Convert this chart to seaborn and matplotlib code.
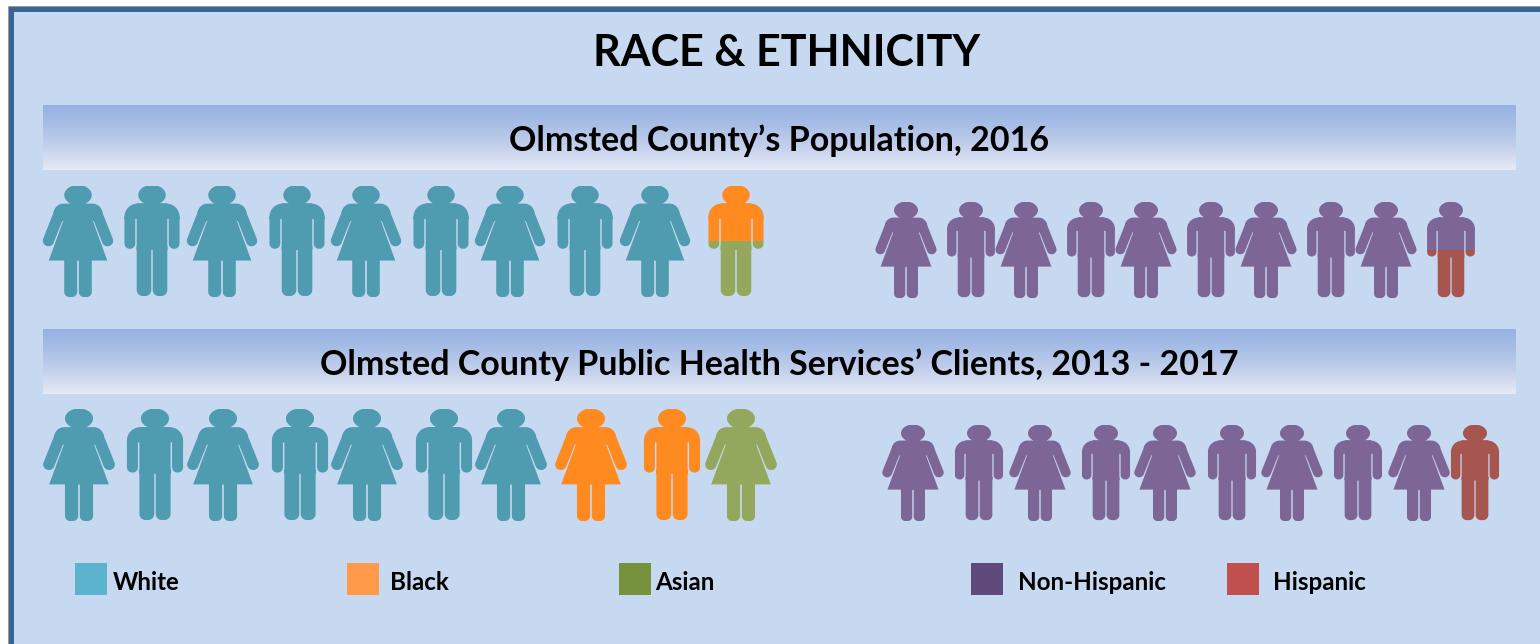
import numpy as np
import pandas as pd
import seaborn as sns
import matplotlib.pyplot as plt
from matplotlib.path import Path
from matplotlib.patches import PathPatch, Rectangle

# values, each group is out of 10 people
race_names = ["White", "Black", "Asian"]
eth_names = ["Non-Hispanic", "Hispanic"]
pop_race = [9, 0.5, 0.5]
pop_eth = [9.5, 0.5]
client_race = [7, 2, 1]
client_eth = [9, 1]
pop_race_icons = list("FMFMFMFMFM")
pop_eth_icons = list("FMFMFMFMFM")
client_race_icons = list("FMFMFMFFMF")
client_eth_icons = list("FMFMFMFMFM")

title = "RACE & ETHNICITY"
band_titles = ["Olmsted County\u2019s Population, 2016",
               "Olmsted County Public Health Services\u2019 Clients, 2013 - 2017"]

# colours
icon_colors = {"White": "#4F9BB0", "Black": "#FF8A20", "Asian": "#93A85C",
               "Non-Hispanic": "#7D6596", "Hispanic": "#A7554F"}
legend_colors = {"White": "#5BB3CE", "Black": "#FF9A4B", "Asian": "#76923C",
                 "Non-Hispanic": "#604A7B", "Hispanic": "#C0504D"}

# layout, pixels
BG = "#C6D9F1"
pop_race_x = [78, 152, 222, 297, 366, 441, 510, 585, 655, 736]
pop_eth_x = [906, 971, 1026, 1091, 1146, 1211, 1266, 1331, 1386, 1451]
client_race_x = [79, 155, 223, 300, 367, 444, 511, 591, 672, 741]
client_eth_x = [913, 979, 1040, 1106, 1165, 1232, 1292, 1358, 1419, 1475]
legend_x = {"White": 91, "Black": 363, "Asian": 635, "Non-Hispanic": 987, "Hispanic": 1243}
legend_text_x = {"White": 113, "Black": 390, "Asian": 655, "Non-Hispanic": 1018, "Hispanic": 1273}


def fix_dir(pts):
    pts = np.array(pts, dtype=float)
    x, y = pts[:, 0], pts[:, 1]
    if np.sum(x * np.roll(y, -1) - np.roll(x, -1) * y) < 0:
        pts = pts[::-1]
    return Path(np.vstack([pts, pts[0]]), closed=True)


def arc(cx, cy, rx, ry, a0, a1, n=14):
    t = np.radians(np.linspace(a0, a1, n))
    return np.column_stack([cx + rx * np.cos(t), cy + ry * np.sin(t)])


def box(x0, y0, x1, y1, rtop=0.0, rbot=0.0):
    # y grows downward here
    pts = []
    pts += [arc(x0 + rtop, y0 + rtop, rtop, rtop, 180, 270)]
    pts += [arc(x1 - rtop, y0 + rtop, rtop, rtop, 270, 360)]
    pts += [arc(x1 - rbot, y1 - rbot, rbot, rbot, 0, 90)]
    pts += [arc(x0 + rbot, y1 - rbot, rbot, rbot, 90, 180)]
    return fix_dir(np.vstack(pts))


def capsule(p0, p1, r):
    p0, p1 = np.array(p0, float), np.array(p1, float)
    a = np.degrees(np.arctan2(p1[1] - p0[1], p1[0] - p0[0]))
    return fix_dir(np.vstack([arc(p0[0], p0[1], r, r, a + 90, a + 270),
                              arc(p1[0], p1[1], r, r, a - 90, a + 90)]))


def man_path():
    parts = [fix_dir(arc(0, 9.5, 13.5, 10, 0, 360, 40)[:-1]),
             box(-27, 18, 27, 33, rtop=13),
             box(-15, 18, 15, 64),
             box(-27, 31, -16.4, 63, rbot=5.2),
             box(16.4, 31, 27, 63, rbot=5.2),
             box(-15, 60, -0.7, 110, rbot=6),
             box(0.7, 60, 15, 110, rbot=6)]
    return Path.make_compound_path(*parts)


def woman_path():
    right = arc(14, 28, 10, 10, -90, -5)
    left = arc(-14, 28, 10, 10, 185, 270)
    shoulders = np.vstack([left, right, [(14, 36), (-14, 36)]])
    parts = [fix_dir(arc(0, 9.5, 13.5, 10, 0, 360, 40)[:-1]),
             fix_dir(shoulders),
             fix_dir([(-13, 31), (13, 31), (28.7, 74.7), (-28.7, 74.7)]),
             capsule((18.5, 28), (29, 55), 5.5),
             capsule((-18.5, 28), (-29, 55), 5.5),
             box(-13.5, 70, -0.8, 111, rbot=5),
             box(0.8, 70, 13.5, 111, rbot=5)]
    return Path.make_compound_path(*parts)


shapes = {"M": man_path(), "F": woman_path()}


def draw_row(ax, xs, kinds, names, values, top, height, xscale):
    s = height / 111
    edges = np.cumsum([0] + list(values))
    for i, (cx, kind) in enumerate(zip(xs, kinds)):
        path = shapes[kind]
        placed = Path(path.vertices * [xscale, s] + [cx, top], path.codes)
        for j, name in enumerate(names):
            lo = max(edges[j], i)
            hi = min(edges[j + 1], i + 1)
            if hi <= lo:
                continue
            patch = PathPatch(placed, facecolor=icon_colors[name], edgecolor="none", zorder=3)
            ax.add_patch(patch)
            y0 = top + (lo - i) * height
            y1 = top + (hi - i) * height
            clip = Path([(cx - 60, y0), (cx + 60, y0), (cx + 60, y1), (cx - 60, y1), (cx - 60, y0)], closed=True)
            patch.set_clip_path(clip, ax.transData)


sns.set_theme(style="white")
plt.rcParams["font.family"] = ["Lato", "DejaVu Sans"]

fig = plt.figure(figsize=(15.4, 6.44), dpi=100, facecolor="white")
ax = fig.add_axes([0, 0, 1, 1])
ax.axis("off")

# panel and its frame, no frame on the right or bottom
ax.add_patch(Rectangle((8, 6), 1540, 700, facecolor="#9A9FA6", edgecolor="none", zorder=0))
ax.add_patch(Rectangle((9, 7), 1540, 700, facecolor="#3A6491", edgecolor="none", zorder=0.5))
ax.add_patch(Rectangle((13.5, 12), 1540, 700, facecolor=BG, edgecolor="none", zorder=1))

# gradient bands
grad = sns.blend_palette(["#95B2E3", "#ABBFE6", "#C6D2EC", "#E4EAF6"], n_colors=65)
grad = np.array(grad)[:, None, :]
for top in (105, 329):
    ax.imshow(grad, extent=(43, 1516, top + 65, top), aspect="auto", zorder=2, interpolation="bilinear")

ax.text(787, 53, title, ha="center", va="center", fontsize=31, fontweight="bold", color="black", zorder=4)
ax.text(779, 141, band_titles[0], ha="center", va="center", fontsize=24.5, fontweight="bold", color="black", zorder=4)
ax.text(779, 365, band_titles[1], ha="center", va="center", fontsize=24.5, fontweight="bold", color="black", zorder=4)

draw_row(ax, pop_race_x, pop_race_icons, race_names, pop_race, 185.5, 111.5, 1.02)
draw_row(ax, pop_eth_x, pop_eth_icons, eth_names, pop_eth, 202, 96, 0.885)
draw_row(ax, client_race_x, client_race_icons, race_names, client_race, 409, 112, 1.04)
draw_row(ax, client_eth_x, client_eth_icons, eth_names, client_eth, 425, 96, 0.89)

# legend
leg = pd.DataFrame({"name": race_names + eth_names})
leg["x"] = leg["name"].map(legend_x)
leg["y"] = 579
sns.scatterplot(data=leg, x="x", y="y", hue="name", palette=legend_colors, marker="s",
                s=530, linewidth=0, legend=False, ax=ax, zorder=4)
for name in race_names + eth_names:
    ax.text(legend_text_x[name], 582, name, ha="left", va="center", fontsize=17.4, fontweight="bold", color="black", zorder=4)

ax.set_xlim(0, 1540)
ax.set_ylim(644, 0)
ax.axis("off")
fig.savefig("out.png", dpi=100, facecolor="white")
